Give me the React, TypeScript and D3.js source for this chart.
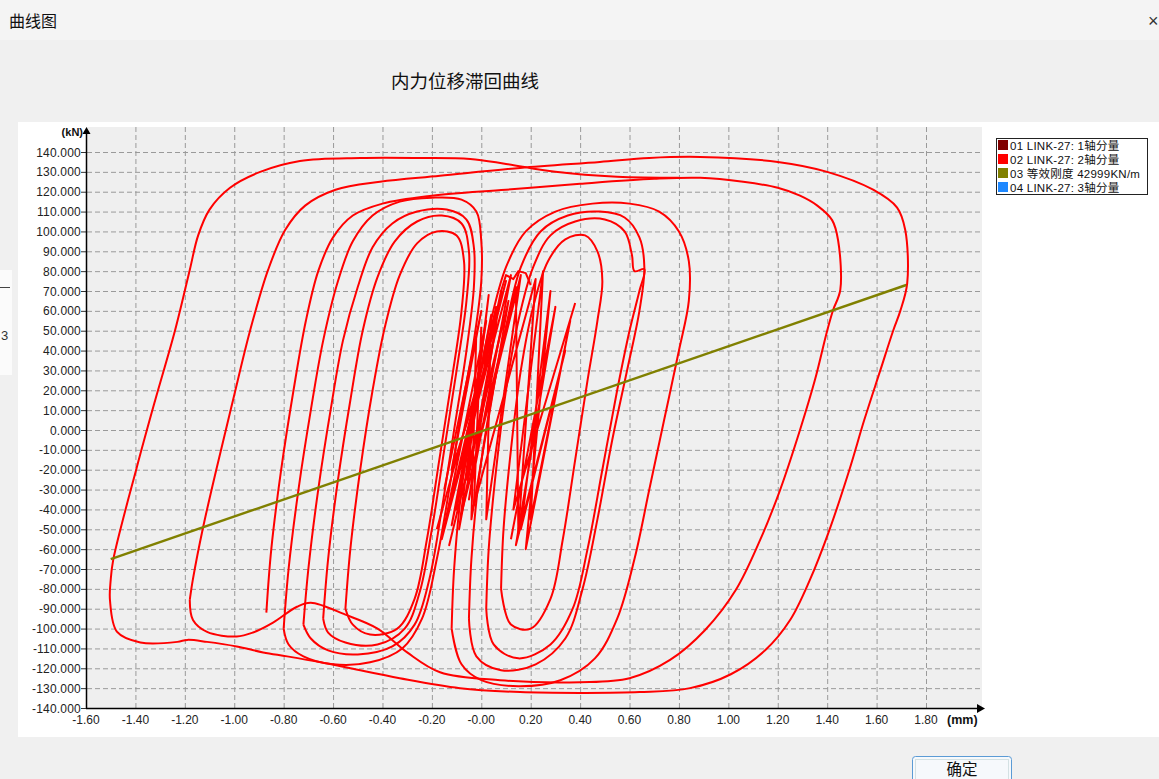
import React from 'react';
import * as d3 from 'd3';

const W = 1159;
const H = 779;

const chartTitle = '内力位移滞回曲线';
const windowTitle = '曲线图';
const xUnit = '(mm)';
const yUnit = '(kN)';

const xTicks = [-1.6, -1.4, -1.2, -1.0, -0.8, -0.6, -0.4, -0.2, 0, 0.2, 0.4, 0.6, 0.8, 1.0, 1.2, 1.4, 1.6, 1.8];
const xTickLabels = ['-1.60', '-1.40', '-1.20', '-1.00', '-0.80', '-0.60', '-0.40', '-0.20', '-0.00', '0.20', '0.40', '0.60', '0.80', '1.00', '1.20', '1.40', '1.60', '1.80'];
const yTicks = [140, 130, 120, 110, 100, 90, 80, 70, 60, 50, 40, 30, 20, 10, 0, -10, -20, -30, -40, -50, -60, -70, -80, -90, -100, -110, -120, -130, -140];

const legendNames = ['01 LINK-27: 1轴分量', '02 LINK-27: 2轴分量', '03 等效刚度 42999KN/m', '04 LINK-27: 3轴分量'];
const legendColors = ['#800000', '#ff0000', '#808000', '#1e88ff'];

// equivalent stiffness line (olive)
const stiffnessLine: [number, number][] = [[-1.50, -65], [1.72, 73]];

// largest cycles
const cycleOuter: [number, number][] = [
  [-1.18, -85.6], [-1.167, -75], [-1.126, -49], [-1.07, -18.6], [-1.005, 15], [-0.936, 50], [-0.863, 80.6],
  [-0.794, 100.7], [-0.713, 113], [-0.59, 121], [-0.41, 125], [-0.167, 128], [0.157, 132], [0.48, 135],
  [0.68, 137], [0.886, 137.5], [1.2, 135], [1.4, 130], [1.586, 121], [1.683, 112], [1.716, 100.7],
  [1.724, 74], [1.696, 60], [1.667, 50], [1.615, 30], [1.55, 5], [1.49, -20], [1.41, -50], [1.33, -75.5],
  [1.25, -95.7], [1.15, -110.8], [1.01, -123], [0.845, -130], [0.64, -132], [0.40, -132.4], [0.157, -132],
  [-0.086, -130], [-0.33, -125], [-0.53, -120], [-0.65, -117], [-0.786, -114], [-0.883, -112], [-0.99, -109],
  [-1.11, -106.7], [-1.19, -105.7], [-1.23, -106.7], [-1.38, -107], [-1.474, -101.7], [-1.503, -85.6],
  [-1.50, -75.5], [-1.49, -65.5], [-1.394, -18.6], [-1.32, 15], [-1.24, 50], [-1.18, 80.6], [-1.146, 98],
  [-1.10, 111], [-1.017, 122], [-0.895, 130], [-0.734, 135.5], [-0.49, 137], [-0.247, 137], [-0.045, 136.5],
  [0.10, 134], [0.30, 130], [0.55, 127.5], [0.80, 127]
];

const cycleSecond: [number, number][] = [
  [-0.87, -92], [-0.85, -60], [-0.81, -20], [-0.76, 20], [-0.71, 55], [-0.66, 80], [-0.60, 97], [-0.52, 108],
  [-0.40, 114], [-0.20, 118], [0.10, 121], [0.40, 124], [0.70, 126.5], [0.886, 127], [1.06, 125], [1.2, 122],
  [1.29, 118], [1.36, 113], [1.42, 105.7], [1.444, 95.7], [1.453, 70.5], [1.424, 60.4], [1.40, 50], [1.35, 25],
  [1.29, 0], [1.21, -30], [1.13, -55], [1.03, -80.6], [0.906, -100.7], [0.764, -115.8], [0.60, -125], [0.40, -127],
  [0.076, -126], [-0.167, -122], [-0.30, -112], [-0.42, -100], [-0.55, -93], [-0.69, -87], [-0.746, -89],
  [-0.843, -97], [-0.924, -102], [-0.99, -104], [-1.11, -101.7], [-1.167, -95.7], [-1.18, -85.6]
];

// medium loops on the left of centre
const leftLoopA: [number, number][] = [
  [-0.80, -100], [-0.78, -70], [-0.74, -30], [-0.69, 10], [-0.64, 45], [-0.58, 75], [-0.52, 95], [-0.44, 108],
  [-0.33, 115], [-0.20, 117], [-0.08, 116], [-0.02, 110], [0.00, 95], [0.00, 75], [-0.03, 45], [-0.08, 10],
  [-0.13, -30], [-0.18, -65], [-0.24, -95], [-0.32, -110], [-0.45, -117], [-0.60, -118], [-0.72, -114],
  [-0.78, -108], [-0.80, -100]
];
const leftLoopB: [number, number][] = [
  [-0.72, -98], [-0.70, -70], [-0.66, -30], [-0.61, 10], [-0.56, 45], [-0.50, 72], [-0.44, 92], [-0.36, 104],
  [-0.26, 110], [-0.14, 111], [-0.06, 106], [-0.03, 92], [-0.03, 72], [-0.06, 40], [-0.11, 0], [-0.16, -40],
  [-0.21, -75], [-0.27, -98], [-0.36, -109], [-0.50, -113], [-0.62, -111], [-0.69, -105], [-0.72, -98]
];
const leftLoopC: [number, number][] = [
  [-0.64, -95], [-0.62, -65], [-0.58, -25], [-0.53, 15], [-0.48, 50], [-0.42, 77], [-0.35, 95], [-0.26, 105],
  [-0.16, 108], [-0.08, 104], [-0.05, 90], [-0.06, 65], [-0.10, 30], [-0.15, -10], [-0.20, -50], [-0.25, -82],
  [-0.31, -100], [-0.42, -108], [-0.55, -107], [-0.62, -102], [-0.64, -95]
];
const leftLoopD: [number, number][] = [
  [-0.55, -90], [-0.53, -60], [-0.49, -20], [-0.44, 20], [-0.39, 52], [-0.33, 78], [-0.26, 94], [-0.18, 100],
  [-0.10, 98], [-0.07, 85], [-0.08, 60], [-0.12, 25], [-0.17, -15], [-0.22, -55], [-0.27, -85], [-0.34, -100],
  [-0.45, -103], [-0.52, -98], [-0.55, -90]
];

// medium loops on the right of centre
const rightLoopA: [number, number][] = [
  [-0.12, -100], [-0.11, -70], [-0.08, -30], [-0.03, 10], [0.03, 50], [0.10, 82], [0.18, 100], [0.30, 110],
  [0.45, 114], [0.60, 114], [0.72, 110], [0.80, 100], [0.84, 85], [0.84, 65], [0.80, 40], [0.74, 5],
  [0.68, -30], [0.62, -65], [0.55, -95], [0.46, -115], [0.32, -126], [0.15, -129], [0.00, -126], [-0.08, -118],
  [-0.12, -100]
];
const rightLoopB: [number, number][] = [
  [-0.05, -95], [-0.04, -65], [-0.01, -25], [0.04, 15], [0.10, 52], [0.16, 82], [0.24, 100], [0.35, 108],
  [0.48, 110], [0.58, 107], [0.64, 97], [0.66, 82], [0.64, 60], [0.59, 30], [0.53, -5], [0.47, -45],
  [0.41, -80], [0.34, -105], [0.22, -118], [0.08, -121], [-0.02, -114], [-0.05, -95]
];
const rightLoopC: [number, number][] = [
  [0.02, -90], [0.03, -60], [0.06, -20], [0.10, 20], [0.15, 55], [0.21, 82], [0.28, 98], [0.38, 105],
  [0.50, 106], [0.58, 100], [0.61, 88], [0.62, 80], [0.66, 81], [0.64, 70], [0.60, 50], [0.55, 20],
  [0.49, -20], [0.43, -60], [0.37, -90], [0.28, -108], [0.15, -115], [0.05, -108], [0.02, -90]
];
const rightLoopD: [number, number][] = [
  [0.08, -80], [0.09, -50], [0.12, -10], [0.16, 30], [0.21, 62], [0.27, 85], [0.34, 96], [0.42, 98],
  [0.47, 90], [0.49, 75], [0.47, 55], [0.43, 25], [0.38, -15], [0.33, -55], [0.28, -85], [0.20, -100],
  [0.12, -98], [0.08, -80]
];

// small dense cycles in the centre
const spikesCentre: [number, number][] = [
  [-0.18, -50], [0.10, 75], [-0.14, -45], [0.06, 62], [-0.10, -40], [0.02, 55], [-0.16, -55], [0.12, 78],
  [-0.05, -35], [0.08, 70], [-0.12, -48], [0.04, 58], [0.02, -45], [0.16, 78], [-0.08, -42], [0.14, 72],
  [0.15, -52], [0.22, 76], [-0.03, -38], [0.00, 52]
];
const spikesCentre2: [number, number][] = [
  [-0.15, -30], [0.00, 60], [-0.12, -20], [0.05, 45], [-0.09, -50], [0.03, 68], [-0.06, -25], [0.09, 55],
  [-0.13, -58], [0.11, 65], [-0.04, -45], [-0.02, 50]
];
const spikesRight: [number, number][] = [
  [0.12, -55], [0.30, 62], [0.14, -58], [0.34, 40], [0.16, -50], [0.28, 70], [0.18, -60], [0.36, 55],
  [0.20, -45], [0.25, 80], [0.13, -40], [0.38, 64]
];
const topWiggle: [number, number][] = [
  [0.08, 70], [0.10, 78], [0.13, 76], [0.15, 80], [0.18, 79], [0.20, 73]
];

const redSeries = [cycleSecond, cycleOuter, leftLoopA, leftLoopB, leftLoopC, leftLoopD, rightLoopA, rightLoopB, rightLoopC, rightLoopD];
const redSpikes = [spikesCentre, spikesCentre2, spikesRight, topWiggle];

export default function App() {
  const x = d3.scaleLinear().domain([-1.6, 1.8]).range([86, 926]);
  const y = d3.scaleLinear().domain([-140, 140]).range([708, 152]);
  const smooth = d3.line<[number, number]>().x(d => x(d[0])).y(d => y(d[1])).curve(d3.curveCatmullRom.alpha(0.5));
  const straight = d3.line<[number, number]>().x(d => x(d[0])).y(d => y(d[1]));

  const plotL = 87, plotR = 982, plotT = 127, plotB = 708;
  const font = 'Arial, "Liberation Sans", sans-serif';
  const cjk = '"Noto Sans CJK SC", sans-serif';

  return (
    <div style={{ position: 'fixed', left: 0, top: 0, width: W, height: H }}>
      <svg width={W} height={H} style={{ display: 'block' }}>
        <rect x={0} y={0} width={W} height={H} fill="#f0f0f0" />
        <rect x={0} y={0} width={W} height={40} fill="#f4f4f4" />
        <text x={9} y={27} fontFamily={cjk} fontSize={16} fill="#111">{windowTitle}</text>
        <text x={1148} y={27} fontFamily={font} fontSize={18} fill="#333">×</text>

        <rect x={0} y={270} width={12} height={105} fill="#fbfbfb" />
        <line x1={0} x2={10} y1={287.5} y2={287.5} stroke="#444" strokeWidth={1} />
        <text x={1} y={340} fontFamily={font} fontSize={13} fill="#333">3</text>

        <text x={465} y={88} textAnchor="middle" fontFamily={cjk} fontSize={18.5} fill="#111">{chartTitle}</text>

        <rect x={18} y={122} width={W - 18} height={615} fill="#ffffff" />
        <rect x={plotL} y={plotT} width={plotR - plotL} height={plotB - plotT} fill="#efefef" />

        {xTicks.slice(1).map((t, i) => (
          <line key={'gx' + i} x1={x(t) + 0.5} x2={x(t) + 0.5} y1={plotT} y2={plotB} stroke="#9a9a9a" strokeWidth={1} strokeDasharray="5,3" />
        ))}
        {yTicks.slice(0, -1).map((t, i) => (
          <line key={'gy' + i} x1={plotL} x2={plotR} y1={y(t) + 0.5} y2={y(t) + 0.5} stroke="#9a9a9a" strokeWidth={1} strokeDasharray="5,3" />
        ))}

        {yTicks.map((t, i) => (
          <g key={'yt' + i}>
            <line x1={81} x2={86} y1={y(t) + 0.5} y2={y(t) + 0.5} stroke="#333" strokeWidth={1} />
            <text x={81} y={y(t) + 4.5} textAnchor="end" fontFamily={font} fontSize={12} letterSpacing={0.2} fill="#222">{t.toFixed(3)}</text>
          </g>
        ))}
        {xTicks.map((t, i) => (
          <text key={'xt' + i} x={x(t)} y={724} textAnchor="middle" fontFamily={font} fontSize={12} fill="#222">{xTickLabels[i]}</text>
        ))}

        <g clipPath="url(#plotclip)">
          {redSeries.map((s, i) => (
            <path key={'r' + i} d={smooth(s) || ''} fill="none" stroke="#ff0000" strokeWidth={2} strokeLinejoin="round" />
          ))}
          {redSpikes.map((s, i) => (
            <path key={'s' + i} d={straight(s) || ''} fill="none" stroke="#ff0000" strokeWidth={2} strokeLinejoin="round" />
          ))}
          <path d={straight(stiffnessLine) || ''} fill="none" stroke="#808000" strokeWidth={2.5} />
        </g>
        <defs>
          <clipPath id="plotclip"><rect x={plotL} y={plotT} width={plotR - plotL} height={plotB - plotT} /></clipPath>
        </defs>

        <line x1={86.5} x2={86.5} y1={plotB} y2={132} stroke="#000" strokeWidth={1.5} />
        <path d="M82.5,134 L86.5,127 L90.5,134 Z" fill="#000" />
        <line x1={86} x2={978} y1={708.5} y2={708.5} stroke="#000" strokeWidth={1.5} />
        <path d="M977,704 L985,708.5 L977,713 Z" fill="#000" />
        <text x={83} y={136} textAnchor="end" fontFamily={font} fontSize={11} fontWeight="bold" fill="#111">{yUnit}</text>
        <text x={947} y={724} fontFamily={font} fontSize={12.5} fontWeight="bold" fill="#111">{xUnit}</text>

        <rect x={996.5} y={138.5} width={151} height={56} fill="#fff" stroke="#222" strokeWidth={1} />
        {legendNames.map((n, i) => (
          <g key={'lg' + i}>
            <rect x={998} y={140 + i * 14} width={10} height={10} fill={legendColors[i]} />
            <text x={1010} y={149.5 + i * 14} fontFamily={`Arial, ${cjk}`} fontSize={11.5} letterSpacing={0.25} fill="#111">{n}</text>
          </g>
        ))}

        <rect x={912.5} y={756.5} width={99} height={30} rx={3} fill="#f6f9fc" stroke="#5b9bd5" strokeWidth={1} />
        <rect x={915.5} y={759.5} width={93} height={24} fill="none" stroke="#8aa" strokeWidth={0.6} strokeDasharray="1,1" />
        <text x={962} y={775} textAnchor="middle" fontFamily={cjk} fontSize={15.5} fill="#111">确定</text>
      </svg>
    </div>
  );
}
